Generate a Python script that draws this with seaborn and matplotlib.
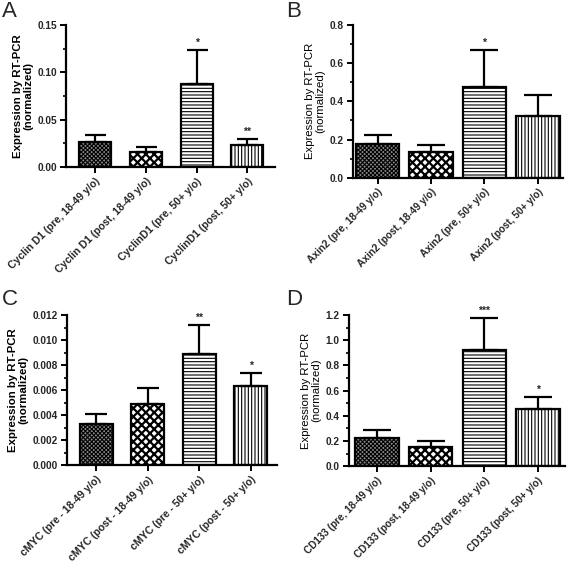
import matplotlib
matplotlib.use("Agg")
import matplotlib.pyplot as plt
import seaborn as sns
import numpy as np
from matplotlib.ticker import AutoMinorLocator

sns.set_theme(style="ticks")
plt.rcParams['font.family'] = ['Liberation Sans', 'DejaVu Sans']
plt.rcParams['hatch.linewidth'] = 0.8

# ---------------- data ----------------
cats_a = ["Cyclin D1 (pre, 18-49 y/o)", "Cyclin D1 (post, 18-49 y/o)",
          "CyclinD1 (pre, 50+ y/o)", "CyclinD1 (post, 50+ y/o)"]
vals_a = [0.0267, 0.0155, 0.088, 0.023]
errs_a = [0.0073, 0.0055, 0.036, 0.007]
stars_a = ["", "", "*", "**"]
yt_a = [0.00, 0.05, 0.10, 0.15]
ytl_a = ["0.00", "0.05", "0.10", "0.15"]

cats_b = ["Axin2 (pre, 18-49 y/o)", "Axin2 (post, 18-49 y/o)",
          "Axin2 (pre, 50+ y/o)", "Axin2 (post, 50+ y/o)"]
vals_b = [0.176, 0.135, 0.477, 0.325]
errs_b = [0.048, 0.035, 0.19, 0.11]
stars_b = ["", "", "*", ""]
yt_b = [0.0, 0.2, 0.4, 0.6, 0.8]
ytl_b = ["0.0", "0.2", "0.4", "0.6", "0.8"]

cats_c = ["cMYC (pre - 18-49 y/o)", "cMYC (post - 18-49 y/o)",
          "cMYC (pre - 50+ y/o)", "cMYC (post - 50+ y/o)"]
vals_c = [0.0033, 0.0049, 0.0089, 0.0063]
errs_c = [0.00077, 0.00127, 0.00233, 0.0011]
stars_c = ["", "", "**", "*"]
yt_c = [0.000, 0.002, 0.004, 0.006, 0.008, 0.010, 0.012]
ytl_c = ["0.000", "0.002", "0.004", "0.006", "0.008", "0.010", "0.012"]

cats_d = ["CD133 (pre, 18-49 y/o)", "CD133 (post, 18-49 y/o)",
          "CD133 (pre, 50+ y/o)", "CD133 (post, 50+ y/o)"]
vals_d = [0.227, 0.156, 0.92, 0.452]
errs_d = [0.058, 0.042, 0.254, 0.10]
stars_d = ["", "", "***", "*"]
yt_d = [0.0, 0.2, 0.4, 0.6, 0.8, 1.0, 1.2]
ytl_d = ["0.0", "0.2", "0.4", "0.6", "0.8", "1.0", "1.2"]

hatches = ["xxxxxxxx", "xxxx", "-----", "|||||"]
hatch_lw = [0.8, 1.6, 0.8, 0.8]
faces = ["#8a8a8a", "white", "white", "white"]

W, H = 567, 569
fig = plt.figure(figsize=(W / 100, H / 100), dpi=100)


def ax_rect(l, r, t, b):
    return [l / W, 1 - b / H, (r - l) / W, (b - t) / H]


def panel(rect, cats, vals, errs, stars, yt, ytl, width, xlim, bold, xfs, letter, lpos):
    ax = fig.add_axes(rect)
    sns.barplot(x=cats, y=vals, ax=ax, width=width, color="white",
                edgecolor="black", linewidth=1.6, saturation=1)
    for p, h, fc, hl in zip(ax.patches, hatches, faces, hatch_lw):
        p.set_hatch(h)
        p.set_facecolor(fc)
        p.set_edgecolor("black")
        try:
            p.set_hatch_linewidth(hl)
        except AttributeError:
            p._hatch_linewidth = hl
    x = np.arange(len(cats))
    ax.errorbar(x, vals, yerr=[np.zeros(len(vals)), errs], fmt="none",
                ecolor="black", elinewidth=1.6, capsize=width * 12, capthick=1.6)
    top = yt[-1]
    for xi, v, e, s in zip(x, vals, errs, stars):
        if s:
            ax.text(xi, v + e + top * 0.015, s, ha="center", va="bottom",
                    fontsize=7.5, fontweight="bold")
    wt = "bold" if bold else "normal"
    ax.set_ylim(0, top)
    ax.set_xlim(*xlim)
    ax.set_yticks(yt)
    ax.set_yticklabels(ytl, fontsize=7.3, fontweight="bold")
    ax.yaxis.set_minor_locator(AutoMinorLocator(2))
    ax.set_xticks(x)
    ax.set_xticklabels(cats, rotation=45, ha="right", rotation_mode="anchor",
                       fontsize=xfs, fontweight="bold")
    ax.tick_params(axis="both", which="major", length=4, width=1.4, color="black", pad=2.5)
    ax.tick_params(axis="y", which="minor", length=2, width=1.2, color="black")
    ax.set_ylabel("Expression by RT-PCR\n(normalized)", fontsize=8.2,
                  fontweight=wt, labelpad=3, linespacing=1.05, color="black")
    ax.set_xlabel("")
    for sp in ["top", "right"]:
        ax.spines[sp].set_visible(False)
    for sp in ["left", "bottom"]:
        ax.spines[sp].set_linewidth(1.6)
        ax.spines[sp].set_color("black")
    fig.text(lpos[0] / W, 1 - lpos[1] / H, letter, fontsize=16, ha="left", va="top")
    return ax


panel(ax_rect(66, 275, 25, 167), cats_a, vals_a, errs_a, stars_a, yt_a, ytl_a,
      0.63, (-0.58, 3.55), True, 7.6, "A", (2, 1))
panel(ax_rect(353, 563, 25, 177.7), cats_b, vals_b, errs_b, stars_b, yt_b, ytl_b,
      0.81, (-0.46, 3.47), False, 7.2, "B", (286, 1))
panel(ax_rect(66.7, 276.7, 315, 465.3), cats_c, vals_c, errs_c, stars_c, yt_c, ytl_c,
      0.64, (-0.57, 3.5), True, 7.6, "C", (2, 289))
panel(ax_rect(348.7, 564.7, 315, 466.3), cats_d, vals_d, errs_d, stars_d, yt_d, ytl_d,
      0.81, (-0.53, 3.5), False, 7.2, "D", (286, 289))

fig.savefig("out.png", dpi=100, facecolor="white")
